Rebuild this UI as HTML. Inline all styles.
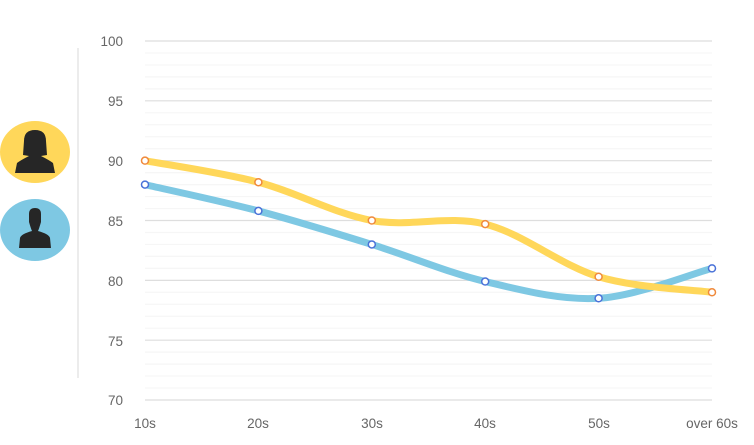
<!DOCTYPE html>
<html><head><style>body{margin:0;background:#fff}svg{display:block}text{font-family:"Liberation Sans",sans-serif;fill:#666;font-size:13.5px}</style></head><body>
<svg width="754" height="445" viewBox="0 0 754 445">
<g id="g"></g>
<line x1="78" y1="48" x2="78" y2="378" stroke="#e6e6e6" stroke-width="1.5"/>
<ellipse cx="35" cy="152" rx="35" ry="31" fill="#ffd75a"/>
<ellipse cx="35" cy="230" rx="35" ry="31" fill="#7ec8e3"/>
<g fill="#262626">
<path d="M24 141 Q24 130 35 130 Q46 130 46 141 L47 155 L41 156 Q49 160 53 163 L55 173 L15 173 L17 163 Q21 160 29 156 L23 155 Z"/>
<path d="M29 214 Q29 208 35 208 Q41 208 41 214 L41 222 Q39 229 38 231 Q49 234 50 238 L51 248 L19 248 L20 238 Q21 234 32 231 Q31 229 29 222 Z"/>
</g>
<g text-anchor="end">
<text x="123" y="46">100</text><text x="123" y="106">95</text><text x="123" y="166">90</text><text x="123" y="226">85</text><text x="123" y="286">80</text><text x="123" y="346">75</text><text x="123" y="405">70</text>
</g>
<g text-anchor="middle">
<text x="145" y="428">10s</text><text x="258" y="428">20s</text><text x="372" y="428">30s</text><text x="485" y="428">40s</text><text x="599" y="428">50s</text><text x="712" y="428">over 60s</text>
</g>
<path id="m" fill="none" stroke="#7ec8e3" stroke-width="7" stroke-linecap="round"/>
<path id="f" fill="none" stroke="#ffd75a" stroke-width="7" stroke-linecap="round"/>
<g id="d"></g>
</svg>
<script>
var ns="http://www.w3.org/2000/svg",g=document.getElementById('g');
for(var i=0;i<=30;i++){var y=41+i*11.967,l=document.createElementNS(ns,'line');l.setAttribute('x1',145);l.setAttribute('x2',712);l.setAttribute('y1',y);l.setAttribute('y2',y);l.setAttribute('stroke',i%5==0?'#dedede':'#f6f6f6');l.setAttribute('stroke-width',1.2);g.appendChild(l);}
var X=[145,258.4,371.8,485.2,598.6,712];
function Y(v){return 41+(100-v)*11.967}
function path(vals){var p=vals.map(function(v,i){return[X[i],Y(v)]});var d='M'+p[0];for(var i=0;i<p.length-1;i++){var a=p[i-1]||p[i],b=p[i],c=p[i+1],e=p[i+2]||c;var c1=[b[0]+(c[0]-a[0])/6,b[1]+(c[1]-a[1])/6],c2=[c[0]-(e[0]-b[0])/6,c[1]-(e[1]-b[1])/6];d+=' C'+c1+' '+c2+' '+c;}return[d,p]}
var M=path([88,85.8,83,79.9,78.5,81]),F=path([90,88.2,85,84.7,80.3,79]);
document.getElementById('m').setAttribute('d',M[0]);document.getElementById('f').setAttribute('d',F[0]);
var dg=document.getElementById('d');
[[M[1],'#4a72d8'],[F[1],'#f08a3c']].forEach(function(s){s[0].forEach(function(p){var c=document.createElementNS(ns,'circle');c.setAttribute('cx',p[0]);c.setAttribute('cy',p[1]);c.setAttribute('r',3.5);c.setAttribute('fill','#fff');c.setAttribute('stroke',s[1]);c.setAttribute('stroke-width',1.5);dg.appendChild(c);});});
</script>
</body></html>
